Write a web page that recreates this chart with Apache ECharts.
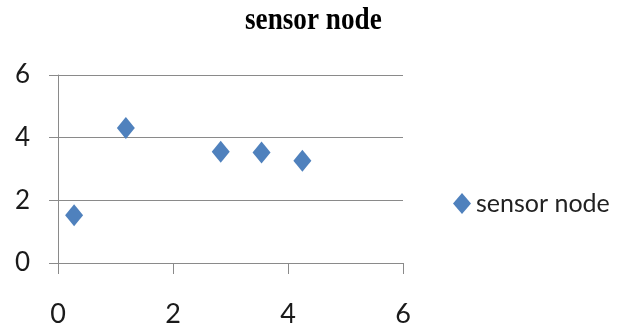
<!DOCTYPE html>
<html>
<head>
<meta charset="utf-8">
<script src="https://cdn.jsdelivr.net/npm/echarts@6/dist/echarts.min.js"></script>
<style>
html,body{margin:0;padding:0;background:#fff;}
#chart{width:626px;height:328px;}
</style>
</head>
<body>
<div id="chart"></div>
<script>
const titleText = 'sensor node';
const seriesName = 'sensor node';
const xValues = [0.28, 1.18, 2.83, 3.54, 4.25];
const yValues = [1.52, 4.31, 3.55, 3.53, 3.26];
const xTicks = [0, 2, 4, 6];
const yTicks = [0, 2, 4, 6];

const points = xValues.map((x, i) => [x, yValues[i]]);
const chart = echarts.init(document.getElementById('chart'), null, {renderer: 'canvas'});
chart.setOption({
  animation: false,
  backgroundColor: '#ffffff',
  graphic: [{
    type: 'text',
    x: 245,
    y: 21,
    scaleX: 0.85,
    style: {
      x: 0,
      y: 0,
      text: titleText,
      align: 'left',
      verticalAlign: 'middle',
      font: 'bold 32px "Liberation Serif", "Times New Roman", serif',
      fill: '#000000'
    }
  }],
  legend: {
    data: [seriesName],
    left: 448,
    top: 186,
    itemWidth: 18,
    itemHeight: 21,
    itemGap: 5,
    textStyle: {fontFamily: 'Lato', fontSize: 25, color: '#222222'}
  },
  grid: {left: 58, right: 223, top: 75, bottom: 64, containLabel: false},
  xAxis: {
    type: 'value',
    min: xTicks[0],
    max: xTicks[xTicks.length - 1],
    interval: 2,
    axisLine: {show: true, onZero: false, lineStyle: {color: '#8a8a8a', width: 1}},
    axisTick: {show: true, length: 11, lineStyle: {color: '#8a8a8a'}},
    splitLine: {show: false},
    axisLabel: {margin: 38, fontFamily: 'Lato', fontSize: 27, color: '#1a1a1a'}
  },
  yAxis: {
    type: 'value',
    min: yTicks[0],
    max: yTicks[yTicks.length - 1],
    interval: 2,
    axisLine: {show: true, lineStyle: {color: '#8a8a8a', width: 1}},
    axisTick: {show: true, length: 9, lineStyle: {color: '#8a8a8a'}},
    splitLine: {show: true, lineStyle: {color: '#8a8a8a', width: 1}},
    axisLabel: {margin: 28, fontFamily: 'Lato', fontSize: 26, color: '#1a1a1a'}
  },
  series: [{
    name: seriesName,
    type: 'scatter',
    symbol: 'diamond',
    symbolSize: [18, 22],
    itemStyle: {color: '#4f81bd', opacity: 1},
    data: points
  }]
});
</script>
</body>
</html>
